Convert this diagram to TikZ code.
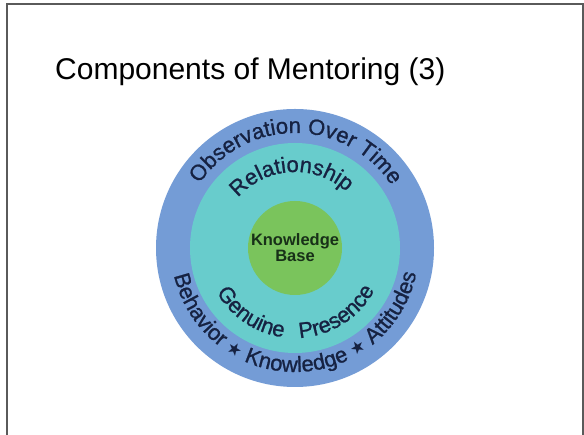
\documentclass[tikz,border=0pt]{standalone}
\usepackage{fontspec}
\setmainfont{Liberation Sans}
\newfontfamily\starfont{DejaVu Sans}
\newfontfamily\ringfam[FakeBold=1]{Liberation Sans}
\usetikzlibrary{decorations.text}

\definecolor{ringblue}{RGB}{116,156,214}
\definecolor{ringteal}{RGB}{104,204,204}
\definecolor{coregreen}{RGB}{122,196,92}
\definecolor{labelnavy}{RGB}{22,34,66}
\definecolor{coretext}{RGB}{24,48,24}
\definecolor{framegray}{RGB}{90,90,90}

\newcommand{\ringfont}{\color{labelnavy}\ringfam\fontsize{22}{22}\selectfont}
\newcommand{\starsym}{\color{labelnavy}\starfont\fontsize{17}{17}\selectfont}

\begin{document}
\begin{tikzpicture}[x=1pt, y=1pt,
    disc/.style={circle, inner sep=0pt, draw=none},
    ringtext/.style={decorate, decoration={text along path, text align=center, text={#1}}}]
    % page size and frame
    \useasboundingbox[fill=white] (0,0) rectangle (584,435);
    \draw[framegray, line width=1.6pt] (7,0) -- (7,431) -- (583,431) -- (583,0);

    % title
    \node[anchor=base west, inner sep=0pt, font=\fontsize{30}{30}\selectfont] (title) at (55,355.5) {Components of Mentoring (3)};

    % centre of the rings
    \coordinate (ctr) at (295,187);

    % rings
    \node[disc, fill=ringblue, minimum size=278pt] (outer) at (ctr) {};
    \node[disc, fill=ringteal, minimum size=210pt] (middle) at (ctr) {};
    \node[disc, fill=coregreen, minimum size=94pt] (core) at (ctr) {};

    % core label
    \node[align=center, text=coretext, font=\bfseries\fontsize{16.5}{13.5}\selectfont] (base) at (ctr) {Knowledge\\Base};

    % outer ring, top
    \path[ringtext={|\ringfont|Observation Over Time}] (ctr) ++(179.5:115) arc[start angle=179.5, end angle=-0.5, radius=115];
    % middle ring, top
    \path[ringtext={|\ringfont|Relationship}] (ctr) ++(183:76) arc[start angle=183, end angle=3, radius=76];
    % middle ring, bottom
    \path[ringtext={|\ringfont|Genuine}] (ctr) ++(176:90) arc[start angle=176, end angle=296, radius=90];
    \path[ringtext={|\ringfont|Presence}] (ctr) ++(242.5:90) arc[start angle=242.5, end angle=362.5, radius=90];
    % outer ring, bottom
    \path[ringtext={|\ringfont|Behavior |\starsym|★|\ringfont| Knowledge |\starsym|★|\ringfont| Attitudes}] (ctr) ++(180.5:124) arc[start angle=180.5, end angle=360.5, radius=124];

\end{tikzpicture}
\end{document}
